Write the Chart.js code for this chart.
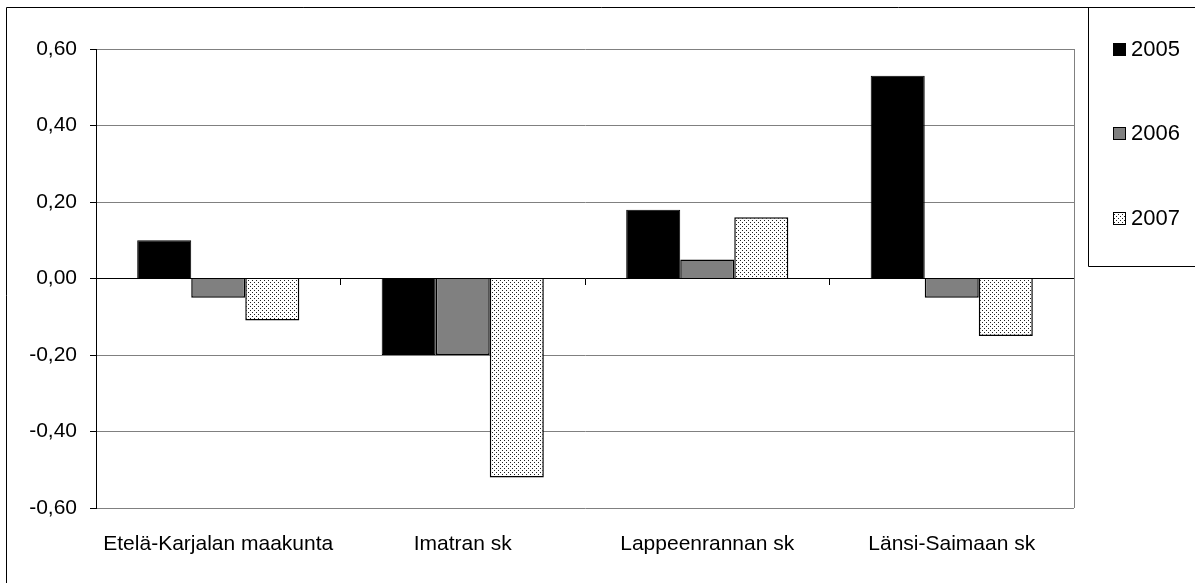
<!DOCTYPE html>
<html>
<head>
<meta charset="utf-8">
<script src="https://cdn.jsdelivr.net/npm/chart.js@4/dist/chart.umd.min.js"></script>
<style>
  html, body { margin: 0; padding: 0; background: #fff; }
  #wrap { width: 1195px; height: 583px; }
</style>
</head>
<body>
<div id="wrap"><canvas id="myChart" width="1195" height="583"></canvas></div>
<script>
var categories = ["Etelä-Karjalan maakunta", "Imatran sk", "Lappeenrannan sk", "Länsi-Saimaan sk"];
var years = ["2005", "2006", "2007"];
var values2005 = [0.10, -0.20, 0.18, 0.53];
var values2006 = [-0.05, -0.20, 0.05, -0.05];
var values2007 = [-0.11, -0.52, 0.16, -0.15];
var yMin = -0.6, yMax = 0.6, yStep = 0.2;

var FONT = "'Liberation Sans', Arial, sans-serif";

// dotted fill like the spreadsheet pattern
function dotPattern() {
  var c = document.createElement("canvas");
  c.width = 4; c.height = 4;
  var g = c.getContext("2d");
  g.fillStyle = "#fff";
  g.fillRect(0, 0, 4, 4);
  g.fillStyle = "#222";
  g.fillRect(0, 0, 1, 1);
  g.fillRect(2, 2, 1, 1);
  return g.createPattern(c, "repeat");
}

function fmt(v) {
  if (Math.abs(v) < 1e-9) v = 0;
  return v.toFixed(2).replace(".", ",");
}

var framePlugin = {
  id: "frame",
  beforeDraw: function (chart) {
    var ctx = chart.ctx;
    ctx.save();
    ctx.fillStyle = "#fff";
    ctx.fillRect(0, 0, chart.width, chart.height);
    ctx.restore();
  },
  afterDraw: function (chart) {
    var ctx = chart.ctx;
    var a = chart.chartArea;
    ctx.save();
    // plot area border (right side)
    ctx.strokeStyle = "#808080";
    ctx.lineWidth = 1;
    ctx.beginPath();
    ctx.moveTo(a.right + 0.5, a.top);
    ctx.lineTo(a.right + 0.5, a.bottom);
    ctx.stroke();
    // outer chart frame
    ctx.strokeStyle = "#000";
    ctx.beginPath();
    ctx.moveTo(6.5, chart.height + 2);
    ctx.lineTo(6.5, 7.5);
    ctx.lineTo(chart.width + 2, 7.5);
    ctx.stroke();
    // legend box
    ctx.beginPath();
    ctx.moveTo(1088.5, 7.5);
    ctx.lineTo(1088.5, 266.5);
    ctx.lineTo(chart.width + 2, 266.5);
    ctx.stroke();
    // legend items
    var ys = [49, 133, 218];
    ctx.font = "22px " + FONT;
    ctx.textBaseline = "middle";
    chart.data.datasets.forEach(function (ds, i) {
      var y = ys[i];
      ctx.fillStyle = ds.backgroundColor;
      ctx.fillRect(1113, y - 6, 13, 13);
      ctx.strokeStyle = "#000";
      ctx.lineWidth = 1;
      ctx.strokeRect(1113.5, y - 5.5, 12, 12);
      ctx.fillStyle = "#000";
      ctx.fillText(ds.label, 1131, y + 1);
    });
    ctx.restore();
  }
};

var myChart = new Chart(document.getElementById("myChart"), {
  type: "bar",
  data: {
    labels: categories,
    datasets: [
      { label: years[0], data: values2005, backgroundColor: "#000000", borderColor: "#000", borderWidth: 1 },
      { label: years[1], data: values2006, backgroundColor: "#808080", borderColor: "#000", borderWidth: 1.5 },
      { label: years[2], data: values2007, backgroundColor: dotPattern(), borderColor: "#000", borderWidth: 1.5 }
    ]
  },
  options: {
    responsive: false,
    animation: false,
    devicePixelRatio: 1,
    categoryPercentage: 0.663,
    barPercentage: 1,
    layout: { padding: { left: 0, right: 121, top: 49, bottom: 0 } },
    plugins: {
      legend: { display: false },
      tooltip: { enabled: false },
      title: { display: false }
    },
    scales: {
      x: {
        grid: { display: false, drawTicks: false },
        border: { display: false },
        ticks: { color: "#000", font: { family: FONT, size: 21 }, padding: 24, maxRotation: 0, autoSkip: false },
        afterFit: function (s) { s.height = 75; }
      },
      x2: {
        type: "category",
        position: { y: 0 },
        offset: true,
        grid: { offset: true, drawOnChartArea: false, drawTicks: true, tickLength: 6, tickColor: "#000", color: "#000" },
        border: { color: "#000", width: 1 },
        ticks: { display: false }
      },
      y: {
        min: yMin,
        max: yMax,
        ticks: {
          stepSize: yStep,
          color: "#000",
          font: { family: FONT, size: 21 },
          padding: 13,
          callback: function (v) { return fmt(v); }
        },
        grid: { color: "#808080", tickColor: "#000", tickLength: 6, lineWidth: 1 },
        border: { color: "#000", width: 1 },
        afterFit: function (s) { s.width = 96; }
      }
    }
  },
  plugins: [framePlugin]
});
</script>
</body>
</html>
